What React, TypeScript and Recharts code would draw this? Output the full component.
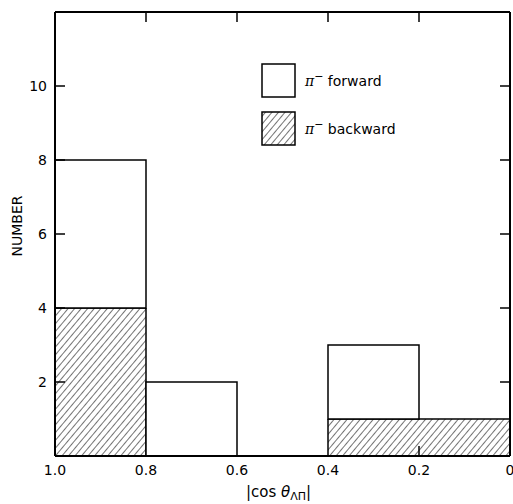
import { BarChart, Bar, XAxis, YAxis } from 'recharts';

// histogram bins, left to right (|cos| from 1.0 down to 0)
const bins = ['1.0-0.8', '0.8-0.6', '0.6-0.4', '0.4-0.2', '0.2-0'];
const binCenters = [0.9, 0.7, 0.5, 0.3, 0.1];
const backward = [4, 0, 0, 1, 1];
const forward = [4, 2, 0, 2, 0];

const yTicks = [2, 4, 6, 8, 10];
const xEdges = [1.0, 0.8, 0.6, 0.4, 0.2, 0];
const xEdgeLabels = ['1.0', '0.8', '0.6', '0.4', '0.2', '0'];
const innerEdges = [0.8, 0.6, 0.4, 0.2];

const data = bins.map((bin, i) => ({ bin, mid: binCenters[i], backward: backward[i], forward: forward[i] }));

const FONT = '"DejaVu Sans", "Liberation Sans", sans-serif';
const TICK = 10;

const LeftTick = ({ x, y, payload }: any) => (
  <g>
    <line x1={x + 8} y1={y} x2={x + 8 + TICK} y2={y} stroke="#000" strokeWidth={1.5} />
    <text x={x} y={y} textAnchor="end" dominantBaseline="central" fontFamily={FONT} fontSize={14} fill="#000">
      {payload.value}
    </text>
  </g>
);

const RightTick = ({ x, y }: any) => (
  <line x1={x} y1={y} x2={x - TICK} y2={y} stroke="#000" strokeWidth={1.5} />
);

const TopTick = ({ x, y }: any) => (
  <line x1={x} y1={y} x2={x} y2={y + TICK} stroke="#000" strokeWidth={1.5} />
);

const BottomTick = ({ x, y, payload }: any) => {
  const label = xEdgeLabels[xEdges.indexOf(payload.value)];
  return (
    <text x={x} y={y} textAnchor="middle" dominantBaseline="central" fontFamily={FONT} fontSize={14} fill="#000">
      {label}
    </text>
  );
};

// hatched bar: skip the shared side edge where neighbouring bins have the same count
const HatchShape = (props: any) => {
  const { x, y, width, height, index } = props;
  if (!height) return null;
  const v = backward[index];
  const leftSide = index === 0 || backward[index - 1] !== v;
  const rightSide = index === backward.length - 1 || backward[index + 1] !== v;
  const b = y + height;
  return (
    <g>
      <rect x={x} y={y} width={width} height={height} fill="url(#hatch)" />
      <line x1={x} y1={y} x2={x + width} y2={y} stroke="#000" strokeWidth={1.5} />
      {leftSide && <line x1={x} y1={y} x2={x} y2={b} stroke="#000" strokeWidth={1.5} />}
      {!leftSide && <line x1={x} y1={b} x2={x} y2={b - TICK} stroke="#000" strokeWidth={1.5} />}
      {rightSide && <line x1={x + width} y1={y} x2={x + width} y2={b} stroke="#000" strokeWidth={1.5} />}
    </g>
  );
};

const XTitle = ({ viewBox }: any) => {
  const cx = viewBox.x + viewBox.width / 2 - 4;
  return (
    <text x={cx} y={viewBox.y + 36} textAnchor="middle" dominantBaseline="central" fontFamily={FONT} fontSize={15} fill="#000">
      |cos <tspan fontStyle="italic">θ</tspan>
      <tspan fontSize={11} dy={4}>ΛΠ</tspan>
      <tspan dy={-4}>|</tspan>
    </text>
  );
};

const YTitle = ({ viewBox }: any) => {
  const cy = viewBox.y + viewBox.height / 2 - 8;
  return (
    <text x={17} y={cy} transform={`rotate(-90, 17, ${cy})`} textAnchor="middle" dominantBaseline="central" fontFamily={FONT} fontSize={14} fill="#000">
      NUMBER
    </text>
  );
};

const Legend = () => (
  <svg width={513} height={504} style={{ position: 'absolute', left: 0, top: 0, pointerEvents: 'none' }}>
    <defs>
      <pattern id="hatchLegend" patternUnits="userSpaceOnUse" width={5} height={5} patternTransform="rotate(40)">
        <line x1={0} y1={0} x2={0} y2={5} stroke="#000" strokeWidth={1.1} />
      </pattern>
    </defs>
    <rect x={262} y={64} width={33} height={33} fill="#fff" stroke="#000" strokeWidth={1.5} />
    <text x={305} y={81} dominantBaseline="central" fontFamily={FONT} fontSize={14} fill="#000">
      <tspan fontStyle="italic" fontFamily="'DejaVu Serif', serif">π</tspan>
      <tspan dy={-5} fontSize={11}>−</tspan>
      <tspan dy={5}> forward</tspan>
    </text>
    <rect x={262} y={112} width={33} height={33} fill="url(#hatchLegend)" stroke="#000" strokeWidth={1.5} />
    <text x={305} y={129} dominantBaseline="central" fontFamily={FONT} fontSize={14} fill="#000">
      <tspan fontStyle="italic" fontFamily="'DejaVu Serif', serif">π</tspan>
      <tspan dy={-5} fontSize={11}>−</tspan>
      <tspan dy={5}> backward</tspan>
    </text>
  </svg>
);

export default function App() {
  return (
    <div style={{ position: 'absolute', left: 0, top: 0, width: 513, height: 504, background: '#fff' }}>
      <BarChart
        width={513}
        height={504}
        data={data}
        margin={{ top: 0, right: 0, bottom: 0, left: 0 }}
        barCategoryGap={0}
        barGap={0}
      >
        <defs>
          <pattern id="hatch" patternUnits="userSpaceOnUse" width={5} height={5} patternTransform="rotate(40)">
            <line x1={0} y1={0} x2={0} y2={5} stroke="#000" strokeWidth={1.1} />
          </pattern>
        </defs>
        <XAxis xAxisId="cat" dataKey="bin" type="category" hide height={0} />
        <XAxis
          xAxisId="num"
          dataKey="mid"
          type="number"
          domain={[0, 1]}
          allowDataOverflow
          reversed
          ticks={xEdges}
          interval={0}
          height={48}
          tickSize={0}
          tickMargin={14}
          tickLine={false}
          tick={<BottomTick />}
          axisLine={{ stroke: '#000', strokeWidth: 2 }}
          label={<XTitle />}
        />
        <XAxis
          xAxisId="top"
          dataKey="mid"
          orientation="top"
          type="number"
          domain={[0, 1]}
          allowDataOverflow
          reversed
          ticks={innerEdges}
          interval={0}
          height={12}
          tickSize={0}
          tickMargin={0}
          tickLine={false}
          tick={<TopTick />}
          axisLine={{ stroke: '#000', strokeWidth: 2 }}
        />
        <YAxis
          yAxisId="left"
          domain={[0, 12]}
          allowDataOverflow
          ticks={yTicks}
          interval={0}
          width={55}
          tickSize={0}
          tickMargin={8}
          tickLine={false}
          tick={<LeftTick />}
          axisLine={{ stroke: '#000', strokeWidth: 2 }}
          label={<YTitle />}
        />
        <YAxis
          yAxisId="right"
          orientation="right"
          domain={[0, 12]}
          allowDataOverflow
          ticks={yTicks}
          interval={0}
          width={3}
          tickSize={0}
          tickMargin={0}
          tickLine={false}
          tick={<RightTick />}
          axisLine={{ stroke: '#000', strokeWidth: 2 }}
        />
        <Bar
          xAxisId="cat"
          yAxisId="left"
          dataKey="backward"
          stackId="a"
          fill="url(#hatch)"
          shape={<HatchShape />}
          isAnimationActive={false}
        />
        <Bar
          xAxisId="cat"
          yAxisId="left"
          dataKey="forward"
          stackId="a"
          fill="#fff"
          stroke="#000"
          strokeWidth={1.5}
          isAnimationActive={false}
        />
      </BarChart>
      <Legend />
    </div>
  );
}
